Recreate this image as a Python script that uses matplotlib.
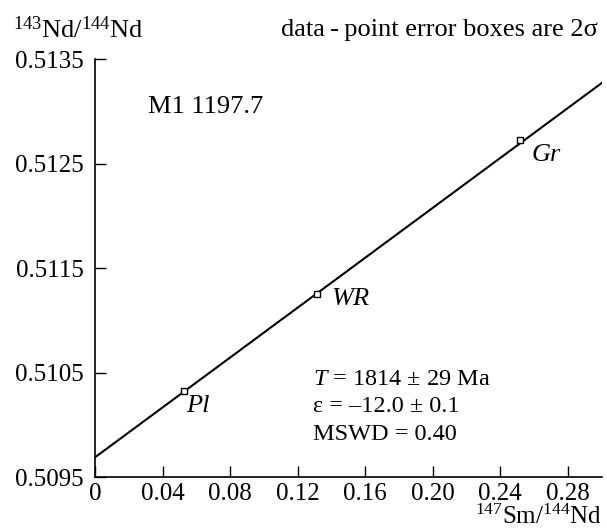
import numpy as np
import matplotlib.pyplot as plt

plt.rcParams['font.family'] = ['Liberation Serif', 'DejaVu Serif']
plt.rcParams['mathtext.fontset'] = 'custom'
plt.rcParams['mathtext.rm'] = 'Liberation Serif'
plt.rcParams['mathtext.it'] = 'Liberation Serif:italic'

# данные изохроны
samples = ['Pl', 'WR', 'Gr']
sm_nd = [0.0527, 0.1312, 0.2519]
nd_nd = [0.510327, 0.511253, 0.512721]
intercept = 0.509688
slope = 0.01194
x_ticks = [0, 0.04, 0.08, 0.12, 0.16, 0.20, 0.24, 0.28]
x_labels = ['0', '0.04', '0.08', '0.12', '0.16', '0.20', '0.24', '0.28']
y_ticks = [0.5095, 0.5105, 0.5115, 0.5125, 0.5135]

W, H = 607, 529
fig = plt.figure(figsize=(W / 100, H / 100), dpi=100)
ax = fig.add_axes([95 / W, 1 - 477 / H, (601.7 - 95) / W, (477 - 59) / H])

xs = np.array([0, 0.30])
ax.plot(xs, intercept + slope * xs, color='black', lw=1.5, zorder=2)
ax.plot(sm_nd, nd_nd, 's', ms=5, mfc='white', mec='black', mew=1.0, zorder=3)

# подписи точек
offsets = {'Pl': (2, -15), 'WR': (15, -5), 'Gr': (11, -15)}
for name, x, y in zip(samples, sm_nd, nd_nd):
    ax.annotate(name, (x, y), xytext=offsets[name], textcoords='offset pixels',
                fontsize=19, style='italic', ha='left', va='center')

ax.set_xlim(0, 0.30)
ax.set_ylim(0.5095, 0.5135)
ax.set_xticks(x_ticks)
ax.set_xticklabels(x_labels)
ax.set_yticks(y_ticks)
ax.set_yticklabels([f'{v:.4f}' for v in y_ticks])
ax.tick_params(direction='in', length=8, width=1, labelsize=18, pad=4)
ax.tick_params(axis='y', pad=8)
for s in ['top', 'right']:
    ax.spines[s].set_visible(False)
for s in ['left', 'bottom']:
    ax.spines[s].set_linewidth(1.2)

ax.text(0.0314, 0.51304, 'M1 1197.7', fontsize=19, va='center')
ax.text(0.129, 0.510429, r'$T$ = 1814 ± 29 Ma', fontsize=17.5, va='center')
ax.text(0.129, 0.510171, 'ε = \u201312.0 ± 0.1', fontsize=17.5, va='center')
ax.text(0.129, 0.509902, 'MSWD = 0.40', fontsize=17.5, va='center')

fig.text(13 / W, 1 - 30 / H, r'$^{143}$Nd/$^{144}$Nd', fontsize=19, va='center')
fig.text(598 / W, 1 - 30 / H, 'data\u2009-\u2009point error boxes are 2σ',
         fontsize=19, va='center', ha='right')
fig.text(602 / W, 1 - 517 / H, r'$^{147}$Sm/$^{144}$Nd', fontsize=18,
         va='center', ha='right')

fig.savefig('out.png', dpi=100)
